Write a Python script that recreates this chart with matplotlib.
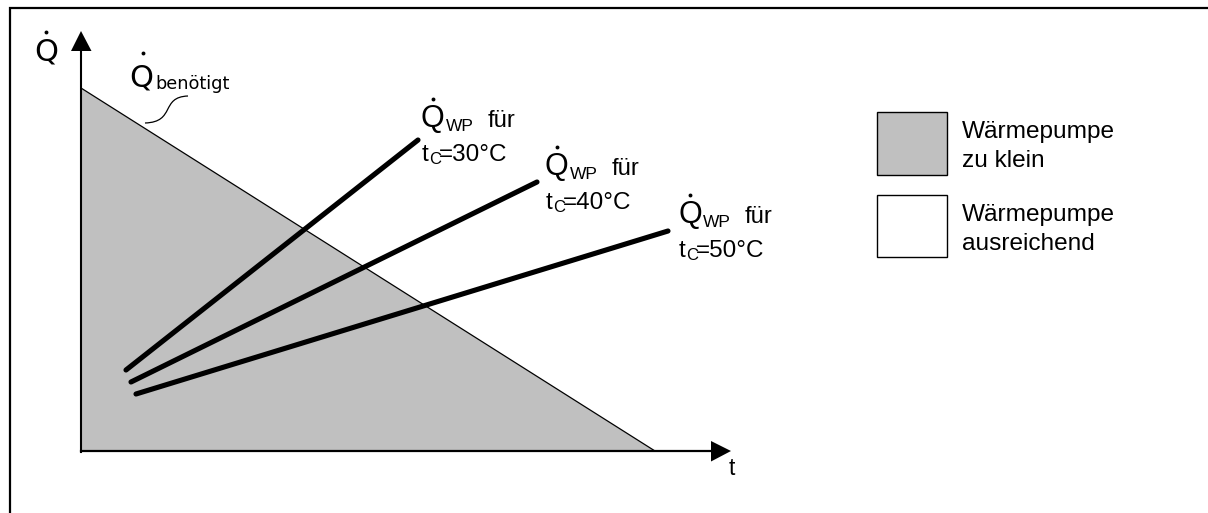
import matplotlib
matplotlib.use("Agg")
from matplotlib import pyplot as plt
from matplotlib.patches import Rectangle, PathPatch, Polygon
from matplotlib.path import Path

# chart units: t to the right, Q upwards, origin at the axes cross
t_axis_end = 650
q_axis_end = 420

# required heat (Q benötigt) falls linearly with t
t_demand = [0, 574]
q_demand = [363, 0]

# heat pump output for different condenser temperatures
wp_labels = ["30°C", "40°C", "50°C"]
wp_t_start = [45, 50, 55]
wp_q_start = [81, 69, 57]
wp_t_end = [337, 456, 587]
wp_q_end = [311, 269, 220]

legend_labels = ["Wärmepumpe\nzu klein", "Wärmepumpe\nausreichend"]
legend_colors = ["#c0c0c0", "white"]

GRAY = "#c0c0c0"
ARIAL = "Liberation Sans"
VERD = "DejaVu Sans"
W, H = 1208, 513
OX, OY = 81, 451


def P(x, y):
    # pixel position -> chart units (layout helper)
    return x - OX, OY - y


def dot(x, y):
    # the time-derivative dot over a Q
    ax.plot(*P(x, y), "o", color="k", ms=2.8, mew=0, zorder=5)


fig = plt.figure(figsize=(W / 100, H / 100), dpi=100)
fig.patch.set_linewidth(0)
ax = fig.add_axes([0, 0, 1, 1])
ax.set_xlim(-OX, W - OX)
ax.set_ylim(OY - H, OY)
ax.axis("off")

# frame (only top and left edge visible)
fx, fy = zip(P(10, H + 5), P(10, 7.5), P(W + 5, 7.5))
ax.plot(fx, fy, color="k", lw=1.6, solid_joinstyle="miter", clip_on=False)

# shaded region under the demand line
ax.fill_between(t_demand, q_demand, 0, color=GRAY, lw=0, zorder=1)
ax.plot(t_demand, q_demand, color="k", lw=0.9, zorder=2)

# axes with arrow heads
ax.plot([0, 0], [-1, q_axis_end - 20], color="k", lw=1.5, zorder=3)
ax.plot([0, t_axis_end - 20], [0, 0], color="k", lw=1.6, zorder=3)
ax.add_patch(Polygon([(-10, q_axis_end - 20), (10.5, q_axis_end - 20), (0, q_axis_end)],
                     closed=True, color="k", lw=0, zorder=3))
ax.add_patch(Polygon([(t_axis_end - 20, -10.5), (t_axis_end - 20, 10), (t_axis_end, 0)],
                     closed=True, color="k", lw=0, zorder=3))

# heat pump lines
for ts, qs, te, qe in zip(wp_t_start, wp_q_start, wp_t_end, wp_q_end):
    ax.plot([ts, te], [qs, qe], color="k", lw=3.7, solid_capstyle="round", zorder=4)

# axis labels
ax.text(*P(34, 60), "Q", fontsize=22, family=VERD, va="baseline")
dot(46, 32)
ax.text(*P(729, 475), "t", fontsize=16.5, family=ARIAL, va="baseline")

# Q benötigt label with leader
ax.text(*P(129, 86), "Q", fontsize=22, family=VERD, va="baseline")
dot(143, 53)
ax.text(*P(155, 89), "benötigt", fontsize=12.8, family=VERD, va="baseline")
verts = [P(145, 123), P(176, 122), P(160, 97), P(188, 96)]
ax.add_patch(PathPatch(Path(verts, [Path.MOVETO, Path.CURVE4, Path.CURVE4, Path.CURVE4]),
                       fc="none", ec="k", lw=0.9, zorder=2))

# heat pump labels
label_pos = [(422, 161), (546, 209), (679, 257)]
for (lx, ly), lab in zip(label_pos, wp_labels):
    qb = ly - 34
    ax.text(*P(lx - 1, qb), "Q", fontsize=22, family=ARIAL, va="baseline")
    dot(lx + 11, qb - 28)
    ax.text(*P(lx + 24, qb + 4), "WP", fontsize=12.5, family=ARIAL, va="baseline")
    ax.text(*P(lx + 66, qb), "für", fontsize=17, family=ARIAL, va="baseline")
    ax.text(*P(lx, ly), "t", fontsize=17.5, family=ARIAL, va="baseline")
    ax.text(*P(lx + 7, ly + 3), "C", fontsize=12, family=ARIAL, va="baseline")
    ax.text(*P(lx + 17, ly), "=" + lab, fontsize=17.5, family=ARIAL, va="baseline")

# legend
box_tops = [112, 195]
box_bottoms = [175, 257]
for top, bot, col, lab in zip(box_tops, box_bottoms, legend_colors, legend_labels):
    x0, y0 = P(877, bot)
    ax.add_patch(Rectangle((x0, y0), 70, bot - top, fc=col, ec="k", lw=1.0, zorder=3))
    l1, l2 = lab.split("\n")
    ax.text(*P(962, top + 26), l1, fontsize=17.6, family=ARIAL, va="baseline")
    ax.text(*P(962, top + 55), l2, fontsize=17.6, family=ARIAL, va="baseline")

fig.savefig("out.png", dpi=100)
